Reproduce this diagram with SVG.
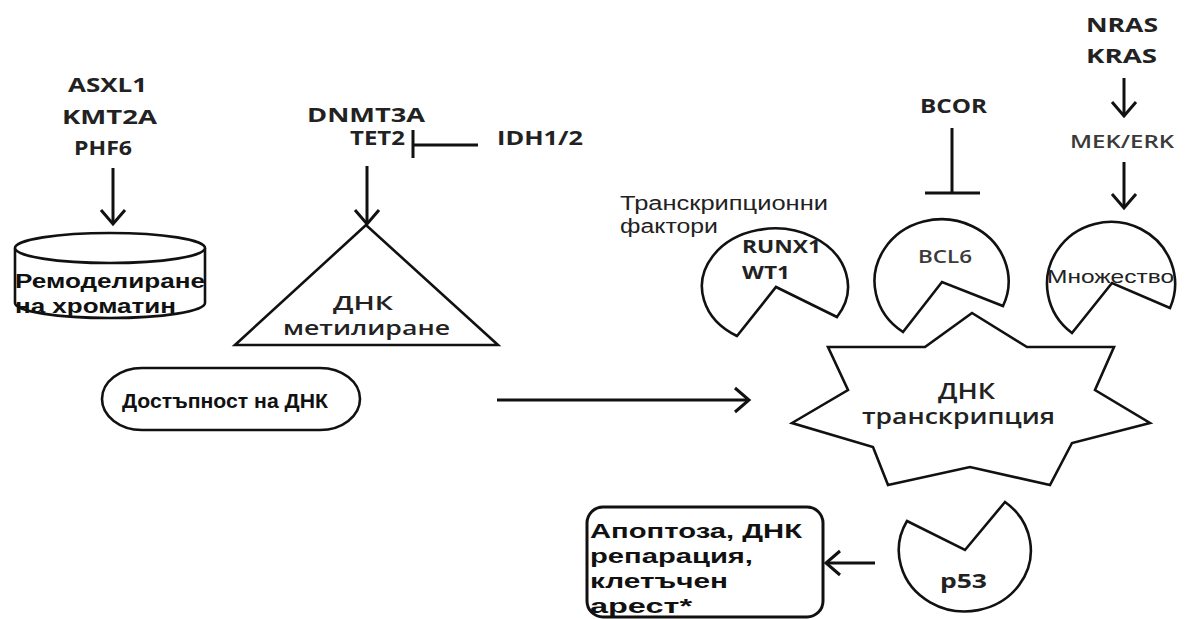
<svg xmlns="http://www.w3.org/2000/svg" width="1188" height="619" viewBox="0 0 1188 619">
<defs>
<style>
.sh{fill:#fff;stroke:#111;stroke-width:2.6;stroke-linejoin:miter}
.ln{fill:none;stroke:#111;stroke-width:3}
.lb{font-family:"Open Sans","DejaVu Sans",sans-serif;font-weight:700;fill:#222}
.lm{font-family:"Open Sans","DejaVu Sans",sans-serif;font-weight:600;fill:#3a3a3a}
.ab{font-family:"Liberation Sans",Arial,sans-serif;font-weight:700;fill:#111}
.ar{font-family:"Liberation Sans",Arial,sans-serif;font-weight:400;fill:#222}
</style>
<marker id="arr" markerUnits="userSpaceOnUse" markerWidth="20" markerHeight="28" viewBox="0 0 20 28" refX="16" refY="14" orient="auto">
<path d="M2,2 L16,14 L2,26" fill="none" stroke="#111" stroke-width="3"/>
</marker>
</defs>
<rect width="1188" height="619" fill="#fff"/>

<g id="connectors">
<line class="ln" x1="113" y1="168" x2="113" y2="224" marker-end="url(#arr)"/>
<line class="ln" x1="367" y1="166" x2="367" y2="224" marker-end="url(#arr)"/>
<line class="ln" x1="413" y1="130" x2="413" y2="158"/>
<line class="ln" x1="413" y1="145" x2="478" y2="145"/>
<line class="ln" x1="952" y1="128" x2="952" y2="193"/>
<line class="ln" x1="925" y1="193" x2="980" y2="193"/>
<line class="ln" x1="1124" y1="78" x2="1124" y2="116" marker-end="url(#arr)"/>
<line class="ln" x1="1124" y1="162" x2="1124" y2="208" marker-end="url(#arr)"/>
<line class="ln" x1="497" y1="400" x2="749" y2="400" marker-end="url(#arr)"/>
<line class="ln" x1="875" y1="563" x2="826" y2="563" marker-end="url(#arr)"/>
</g>

<g id="asxl1">
<text class="lb" font-size="20" x="68" y="92" textLength="79" lengthAdjust="spacingAndGlyphs">ASXL1</text>
<text class="lb" font-size="20" x="62" y="124" textLength="95" lengthAdjust="spacingAndGlyphs">KMT2A</text>
<text class="lb" font-size="20" x="74" y="155" textLength="58" lengthAdjust="spacingAndGlyphs">PHF6</text>
</g>

<g id="chromatin">
<path class="sh" d="M15,248 L15,303 A95,15 0 0 0 205,303 L205,248"/>
<ellipse class="sh" cx="110" cy="248" rx="95" ry="15"/>
<text class="ab" font-size="20" x="15" y="288" textLength="190" lengthAdjust="spacingAndGlyphs">Ремоделиране</text>
<text class="ab" font-size="20" x="15" y="313" textLength="161" lengthAdjust="spacingAndGlyphs">на хроматин</text>
</g>

<g id="dnmt3a">
<text class="lb" font-size="20" x="307" y="122" textLength="118" lengthAdjust="spacingAndGlyphs">DNMT3A</text>
<text class="lb" font-size="20" x="350" y="145" textLength="55" lengthAdjust="spacingAndGlyphs">TET2</text>
</g>

<g id="idh">
<text class="lb" font-size="20" x="497" y="145" textLength="86" lengthAdjust="spacingAndGlyphs">IDH1/2</text>
</g>

<g id="methylation">
<polygon class="sh" points="366,225 235,345 498,345"/>
<text class="lm" font-size="20" x="333" y="310" textLength="60" lengthAdjust="spacingAndGlyphs" style="fill:#222">ДНК</text>
<text class="lm" font-size="20" x="283" y="335" textLength="167" lengthAdjust="spacingAndGlyphs" style="fill:#222">метилиране</text>
</g>

<g id="access">
<rect class="sh" x="102" y="368" width="258" height="62" rx="40" ry="31"/>
<text class="ab" font-size="20" x="122" y="408" textLength="206" lengthAdjust="spacingAndGlyphs">Достъпност на ДНК</text>
</g>

<g id="tf-label">
<text class="ar" font-size="20" x="620" y="210" textLength="208" lengthAdjust="spacingAndGlyphs">Транскрипционни</text>
<text class="ar" font-size="20" x="620" y="233" textLength="98" lengthAdjust="spacingAndGlyphs">фактори</text>
</g>

<g id="runx1">
<path class="sh" d="M737,336 L776,287 L837,317 A73,58 0 1 0 737,336 Z"/>
<text class="lb" font-size="18" x="742" y="253" textLength="79" lengthAdjust="spacingAndGlyphs">RUNX1</text>
<text class="lb" font-size="18" x="742" y="279" textLength="48" lengthAdjust="spacingAndGlyphs">WT1</text>
</g>

<g id="bcor">
<text class="lb" font-size="20" x="920" y="113" textLength="67" lengthAdjust="spacingAndGlyphs">BCOR</text>
</g>

<g id="bcl6">
<path class="sh" d="M903,332 L942,282 L1003,306 A67,62 0 1 0 903,332 Z"/>
<text class="lm" font-size="18" x="918" y="263" textLength="54" lengthAdjust="spacingAndGlyphs">BCL6</text>
</g>

<g id="nras">
<text class="lb" font-size="20" x="1086" y="32" textLength="72" lengthAdjust="spacingAndGlyphs">NRAS</text>
<text class="lb" font-size="20" x="1086" y="63" textLength="71" lengthAdjust="spacingAndGlyphs">KRAS</text>
</g>

<g id="mek">
<text class="lm" font-size="18" x="1070" y="148" textLength="104" lengthAdjust="spacingAndGlyphs">MEK/ERK</text>
</g>

<g id="many">
<path class="sh" d="M1072,333 L1112,283 L1170,308 A64,62 0 1 0 1072,333 Z"/>
<text class="ar" font-size="19" x="1047" y="283" textLength="127" lengthAdjust="spacingAndGlyphs">Множество</text>
</g>

<g id="transcription">
<polygon class="sh" points="828,347 925,347 972,313 1027,347 1114,347 1095,390 1150,423 1072,443 1050,485 970,467 888,485 873,447 792,423 848,390"/>
<text class="lm" font-size="21" x="938" y="399" textLength="57" lengthAdjust="spacingAndGlyphs" style="fill:#222">ДНК</text>
<text class="lm" font-size="21" x="862" y="424" textLength="193" lengthAdjust="spacingAndGlyphs" style="fill:#222">транскрипция</text>
</g>

<g id="p53">
<path class="sh" d="M1005,502 L965,550 L907,521 A66,61 0 1 0 1005,502 Z"/>
<text class="lb" font-size="20" x="940" y="588" textLength="47" lengthAdjust="spacingAndGlyphs">p53</text>
</g>

<g id="outcome">
<rect class="sh" x="587" y="507" width="236" height="110" rx="16" ry="16" style="stroke-width:3"/>
<text class="ab" font-size="21" x="590" y="538" textLength="212" lengthAdjust="spacingAndGlyphs">Апоптоза, ДНК</text>
<text class="ab" font-size="21" x="590" y="563" textLength="163" lengthAdjust="spacingAndGlyphs">репарация,</text>
<text class="ab" font-size="21" x="590" y="588" textLength="138" lengthAdjust="spacingAndGlyphs">клетъчен</text>
<text class="ab" font-size="21" x="590" y="613" textLength="102" lengthAdjust="spacingAndGlyphs">арест*</text>
</g>
</svg>
